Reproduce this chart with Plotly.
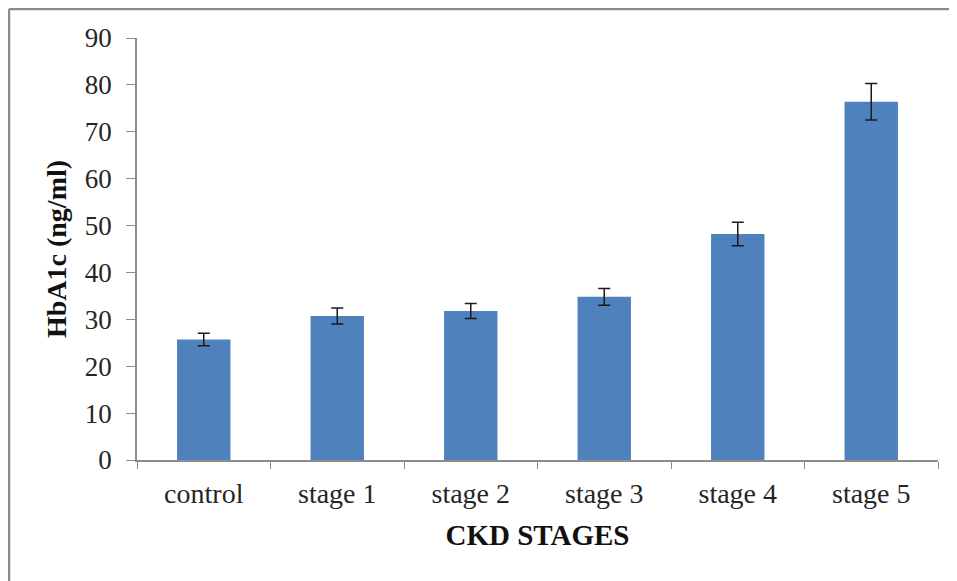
import plotly.graph_objects as go

categories = ["control", "stage 1", "stage 2", "stage 3", "stage 4", "stage 5"]
values = [25.7, 30.7, 31.8, 34.8, 48.2, 76.4]
errors = [1.35, 1.7, 1.6, 1.8, 2.5, 3.9]
y_ticks = [0, 10, 20, 30, 40, 50, 60, 70, 80, 90]

font_family = "Liberation Serif, Times New Roman, serif"

# figure is placed 8px in from the page corner (default body margin)
W, H = 949, 573
ML, MR, MT, MB = 129, 19, 30, 121
PW, PH = W - ML - MR, H - MT - MB


def px_x(x):
    return (x - ML) / PW


def px_y(y):
    return (H - MB - y) / PH


fig = go.Figure(
    go.Bar(
        x=categories,
        y=values,
        marker=dict(color="#4F81BD", line=dict(width=0)),
        error_y=dict(type="data", array=errors, visible=True, color="#1a1a1a", thickness=1.5, width=6),
        width=0.4,
    )
)

fig.update_layout(
    width=W,
    height=H,
    margin=dict(l=ML, r=MR, t=MT, b=MB),
    paper_bgcolor="white",
    plot_bgcolor="white",
    showlegend=False,
    font=dict(family=font_family, color="#222222"),
    xaxis=dict(
        showline=True,
        linecolor="#8c8c8c",
        linewidth=1.5,
        ticks="outside",
        tickson="boundaries",
        ticklen=7,
        tickcolor="#8c8c8c",
        tickfont=dict(size=28, family=font_family, color="#262626"),
        ticklabelstandoff=8,
        title=dict(text="<b>CKD STAGES</b>", font=dict(size=29, family=font_family, color="#111111"), standoff=16),
        showgrid=False,
        zeroline=False,
    ),
    yaxis=dict(
        range=[0, 90],
        tickvals=y_ticks,
        showline=True,
        linecolor="#8c8c8c",
        linewidth=1.5,
        ticks="outside",
        ticklen=9,
        tickcolor="#8c8c8c",
        tickfont=dict(size=27, family=font_family, color="#262626"),
        ticklabelstandoff=9,
        title=dict(text="<b>HbA1c (ng/ml)</b>", font=dict(size=28, family=font_family, color="#111111"), standoff=10),
        showgrid=False,
        zeroline=False,
    ),
    shapes=[
        dict(type="line", xref="paper", yref="paper",
             x0=px_x(1), x1=px_x(W), y0=px_y(1), y1=px_y(1),
             line=dict(color="#8a8a8a", width=2.5)),
        dict(type="line", xref="paper", yref="paper",
             x0=px_x(1), x1=px_x(1), y0=px_y(1), y1=px_y(H),
             line=dict(color="#8a8a8a", width=2.5)),
        dict(type="line", xref="paper", yref="paper",
             x0=px_x(945), x1=px_x(945), y0=px_y(1), y1=px_y(H),
             line=dict(color="#eeeeee", width=1)),
    ],
)

fig.write_html("out.html")
